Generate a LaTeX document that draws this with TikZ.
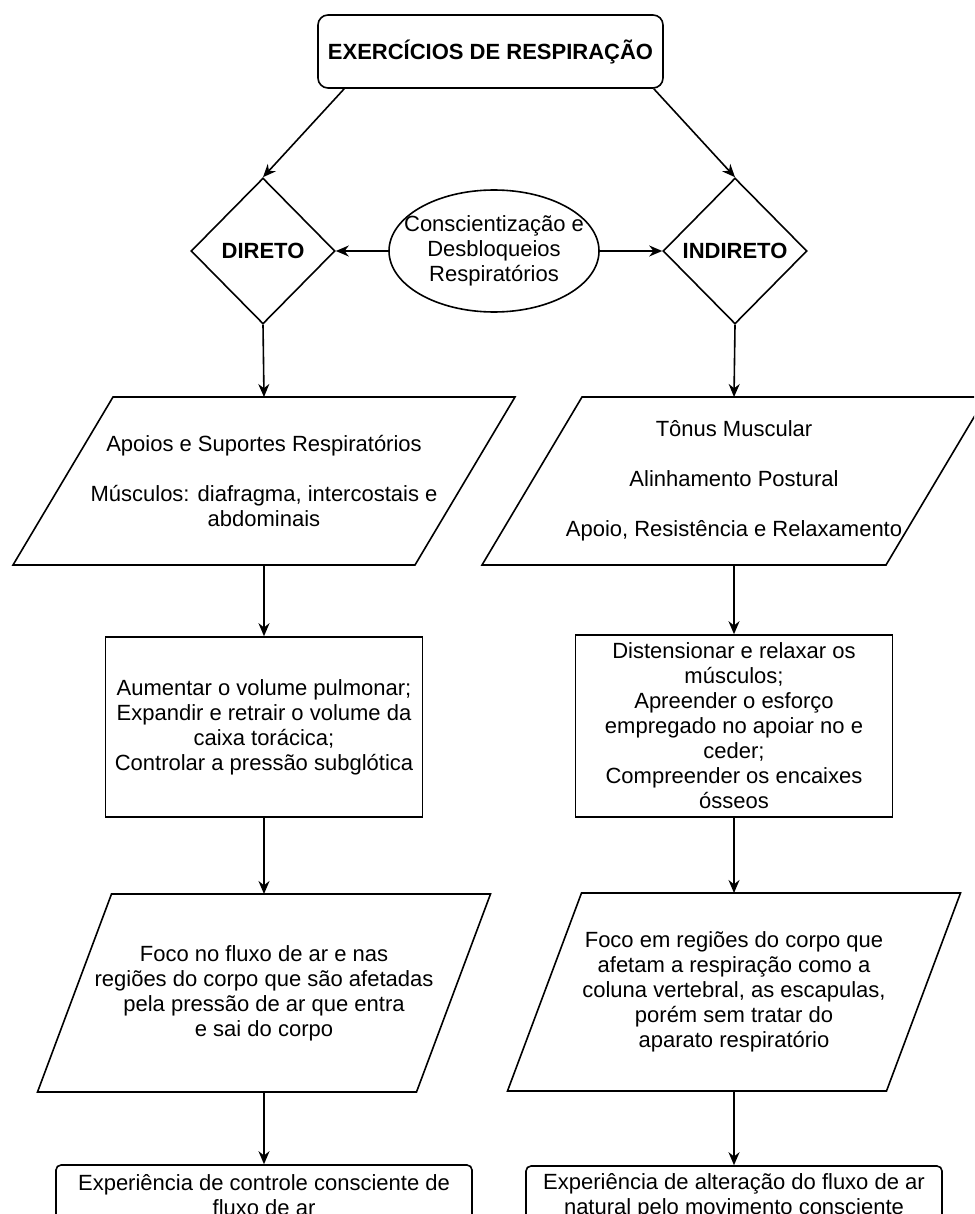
\documentclass[tikz,border=0pt]{standalone}
\usepackage{fontspec}
\setmainfont{Liberation Sans}
\usetikzlibrary{shapes.geometric,arrows.meta}

\tikzset{
	seta/.style={-{Stealth[length=6.5pt,width=5.5pt]}, line width=0.8pt},
	caixa/.style={draw, line width=0.8pt, align=center, inner sep=0pt},
	losango/.style={caixa, diamond, minimum width=72pt, minimum height=73pt,
		font=\fontsize{11}{12.5}\selectfont\bfseries},
	corpo/.style={align=center, inner sep=0pt, outer sep=0pt}
}
% contorno inclinado em volta de um no retangular
\newcommand\inclinado[2]{\draw[line width=0.8pt]
	([xshift=#2]#1.north west) -- ([xshift=#2]#1.north east)
	-- ([xshift=-#2]#1.south east) -- ([xshift=-#2]#1.south west) -- cycle;}

\begin{document}
\begin{tikzpicture}[x=0.5pt, y=-0.5pt, font=\fontsize{11}{12.5}\selectfont]
		\useasboundingbox (0,0) rectangle (974,1214);
		\clip (0,0) rectangle (974,1214);
		\node[caixa, rounded corners=5pt, minimum width=172.5pt, minimum height=36.5pt,
			font=\fontsize{11}{12.5}\selectfont\bfseries] (titulo) at (490.5,51.5)
			{EXERCÍCIOS DE RESPIRAÇÃO};
		\node[losango] (direto) at (263,251) {DIRETO};
		\node[losango] (indireto) at (735,251) {INDIRETO};
		\node[caixa, ellipse, minimum width=105pt, minimum height=61pt,
			label={[align=center]center:Conscientização e\\Desbloqueios\\Respiratórios}]
			(consc) at (494,251) {};
		% coluna da esquerda
		\node[corpo, minimum width=201pt, minimum height=84pt] (apoios) at (264,481)
			{Apoios e Suportes Respiratórios\\[12.5pt]Músculos: diafragma, intercostais e\\abdominais};
		\inclinado{apoios}{25pt}
		\node[caixa, minimum width=158.5pt, minimum height=90pt] (volume) at (264,727)
			{Aumentar o volume pulmonar;\\Expandir e retrair o volume da\\caixa torácica;\\Controlar a pressão subglótica};
		\node[corpo, minimum width=189.5pt, minimum height=99pt] (fluxo) at (264,993)
			{Foco no fluxo de ar e nas\\regiões do corpo que são afetadas\\pela pressão de ar que entra\\e sai do corpo};
		\inclinado{fluxo}{18.5pt}
		\node[caixa, rounded corners=2.5pt, minimum width=208pt, minimum height=30pt]
			(controle) at (264,1195) {Experiência de controle consciente de\\fluxo de ar};
		% coluna da direita
		\node[corpo, minimum width=202pt, minimum height=84pt] (tonus) at (734,481)
			{Tônus Muscular\\[12.5pt]Alinhamento Postural\\[12.5pt]Apoio, Resistência e Relaxamento};
		\inclinado{tonus}{25pt}
		\node[caixa, minimum width=158.5pt, minimum height=91pt] (relaxar) at (734,726)
			{Distensionar e relaxar os\\músculos;\\Apreender o esforço\\empregado no apoiar no e\\ceder;\\Compreender os encaixes\\ósseos};
		\node[corpo, minimum width=189.5pt, minimum height=99pt] (regioes) at (734,992)
			{Foco em regiões do corpo que\\afetam a respiração como a\\coluna vertebral, as escapulas,\\porém sem tratar do\\aparato respiratório};
		\inclinado{regioes}{18.5pt}
		\node[caixa, rounded corners=2.5pt, minimum width=208pt, minimum height=30pt]
			(alteracao) at (734,1196) {Experiência de alteração do fluxo de ar\\natural pelo movimento consciente};
		% setas
		\draw[seta] ([xshift=13.5pt]titulo.south west) -- (direto.north);
		\draw[seta] ([xshift=-5pt]titulo.south east) -- (indireto.north);
		\draw[seta] (consc.west) -- (direto.east);
		\draw[seta] (consc.east) -- (indireto.west);
		\draw[seta] (direto.south) -- (apoios.north);
		\draw[seta] (apoios.south) -- (volume.north);
		\draw[seta] (volume.south) -- (fluxo.north);
		\draw[seta] (fluxo.south) -- (controle.north);
		\draw[seta] (indireto.south) -- (tonus.north);
		\draw[seta] (tonus.south) -- (relaxar.north);
		\draw[seta] (relaxar.south) -- (regioes.north);
		\draw[seta] (regioes.south) -- (alteracao.north);
	\end{tikzpicture}
\end{document}
